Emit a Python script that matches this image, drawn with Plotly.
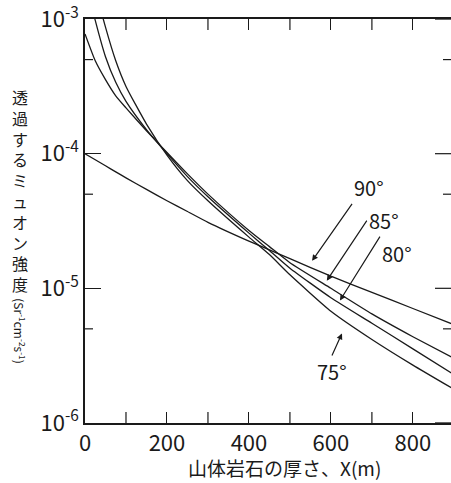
import plotly.graph_objects as go

# ---- data ----
thickness_m = [0, 25, 50, 75, 100, 150, 200, 250, 300, 400, 450, 500, 600, 700, 800, 900]

flux_90 = [1.00e-4, 9.02e-5, 8.13e-5, 7.33e-5, 6.61e-5, 5.43e-5, 4.47e-5, 3.72e-5, 3.09e-5,
           2.24e-5, 1.93e-5, 1.66e-5, 1.23e-5, 9.33e-6, 7.08e-6, 5.37e-6]
flux_85 = [7.76e-4, 4.90e-4, 3.55e-4, 2.69e-4, 2.19e-4, 1.48e-4, 1.02e-4, 7.08e-5, 5.01e-5,
           2.69e-5, 2.04e-5, 1.55e-5, 1.00e-5, 6.46e-6, 4.37e-6, 3.02e-6]
flux_80 = [2.0e-3, 9.77e-4, 5.25e-4, 3.39e-4, 2.45e-4, 1.51e-4, 1.00e-4, 6.76e-5, 4.79e-5,
           2.57e-5, 1.91e-5, 1.41e-5, 8.51e-6, 5.50e-6, 3.55e-6, 2.29e-6]
flux_75 = [3.55e-3, 1.70e-3, 8.71e-4, 4.90e-4, 3.16e-4, 1.66e-4, 9.77e-5, 6.31e-5, 4.47e-5,
           2.40e-5, 1.78e-5, 1.26e-5, 6.76e-6, 4.17e-6, 2.69e-6, 1.78e-6]

series_names = ["90°", "85°", "80°", "75°"]
series_values = [flux_90, flux_85, flux_80, flux_75]

x_major_vals = [0, 200, 400, 600, 800]
x_minor_vals = [100, 300, 500, 700]
y_major_vals = [1e-6, 1e-5, 1e-4, 1e-3]
y_major_text = ["10<sup>-6</sup>", "10<sup>-5</sup>", "10<sup>-4</sup>", "10<sup>-3</sup>"]
y_minor_vals = [5e-6, 5e-5, 5e-4]

# arrow heads (x in m, y in log10 units) and tail offsets (px) where each label sits
head_x = [554, 590, 622, 627]
head_y = [-4.796, -4.943, -5.091, -5.335]
tail_dx = [40, 40, 40, -10]
tail_dy = [-57, -60, -64, 22]
label_xanchor = ["left", "left", "left", "center"]
label_yanchor = ["bottom", "middle", "top", "top"]

FONT = "Noto Sans CJK JP, Noto Sans, sans-serif"
INK = "#1a1a1a"
X_MAX = 893
Y_LOG = [-6.0005, -2.9995]
PLOT_W, PLOT_H = 366, 406          # plotting-area size in px
M_PER_PX = X_MAX / PLOT_W           # x data units per pixel
DEC_PER_PX = 3.0 / PLOT_H           # decades per pixel

fig = go.Figure()
for name, vals in zip(series_names, series_values):
    fig.add_trace(go.Scatter(x=thickness_m, y=vals, mode="lines", name=name,
                             line=dict(color=INK, width=1.3, shape="spline", smoothing=0.5),
                             showlegend=False, hoverinfo="skip"))

# extra inward tick marks (left minor, right side, odd hundreds on bottom/top)
tx, ty = [], []
for v in y_minor_vals:                       # left minor ticks, 8 px
    tx += [0, 8 * M_PER_PX, None]; ty += [v, v, None]
for v in y_major_vals:                       # right major ticks, 16 px
    tx += [X_MAX - 16 * M_PER_PX, X_MAX, None]; ty += [v, v, None]
for v in y_minor_vals:                       # right minor ticks, 8 px
    tx += [X_MAX - 8 * M_PER_PX, X_MAX, None]; ty += [v, v, None]
y_bot, y_top = 1e-6, 1e-3
for xv in x_minor_vals:                      # odd hundreds, 11 px, bottom and top
    tx += [xv, xv, None]; ty += [y_bot, y_bot * 10 ** (11 * DEC_PER_PX), None]
    tx += [xv, xv, None]; ty += [y_top, y_top / 10 ** (11 * DEC_PER_PX), None]
fig.add_trace(go.Scatter(x=tx, y=ty, mode="lines", line=dict(color=INK, width=1.2),
                         showlegend=False, hoverinfo="skip", connectgaps=False))

annotations = []
for i, name in enumerate(series_names):
    annotations.append(dict(x=head_x[i], y=head_y[i], xref="x", yref="y", text=name,
                            showarrow=True, ax=tail_dx[i], ay=tail_dy[i],
                            xanchor=label_xanchor[i], yanchor=label_yanchor[i],
                            arrowhead=2, arrowsize=1, arrowwidth=1.2, arrowcolor=INK,
                            font=dict(family=FONT, size=20, color=INK)))

# axis titles
annotations.append(dict(x=0.545, y=-0.111, xref="paper", yref="paper",
                        text="山体岩石の厚さ、X(m)", showarrow=False,
                        xanchor="center", yanchor="middle",
                        font=dict(family=FONT, size=19, color=INK)))
annotations.append(dict(x=-0.178, y=0.575, xref="paper", yref="paper",
                        text="<br>".join(list("透過するミュオン強度")), showarrow=False,
                        xanchor="center", yanchor="middle",
                        font=dict(family=FONT, size=16, color=INK)))
annotations.append(dict(x=-0.176, y=0.228, xref="paper", yref="paper",
                        text="(Sr<sup>-1</sup>cm<sup>-2</sup>s<sup>-1</sup>)", showarrow=False,
                        textangle=90, xanchor="center", yanchor="middle",
                        font=dict(family=FONT, size=12, color=INK)))

fig.update_layout(
    width=451, height=483,
    margin=dict(l=85, r=0, t=17, b=60),
    paper_bgcolor="white", plot_bgcolor="white",
    font=dict(family=FONT, color=INK),
    annotations=annotations,
    xaxis=dict(range=[0, X_MAX], tickvals=x_major_vals,
               ticks="inside", ticklen=11, tickwidth=1.2, tickcolor=INK,
               showline=True, linecolor=INK, linewidth=1.5, mirror="ticks",
               showgrid=False, zeroline=False, ticklabeloverflow="allow",
               tickfont=dict(family=FONT, size=22, color=INK)),
    yaxis=dict(type="log", range=Y_LOG, tickvals=y_major_vals, ticktext=y_major_text,
               ticks="inside", ticklen=16, tickwidth=1.2, tickcolor=INK,
               showline=True, linecolor=INK, linewidth=1.5, mirror=False,
               showgrid=False, zeroline=False, ticklabeloverflow="allow",
               tickfont=dict(family=FONT, size=22, color=INK)),
)

fig.write_html("out.html", config={"displayModeBar": False},
               post_script="document.body.style.margin='0';document.body.style.overflow='hidden';")
